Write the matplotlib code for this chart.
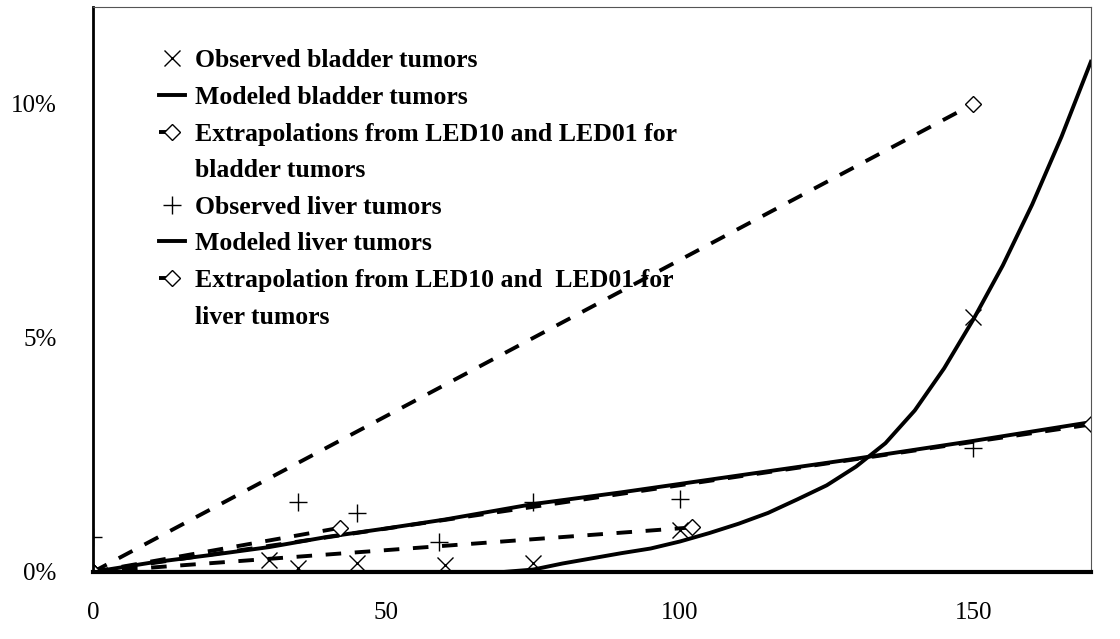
import matplotlib
matplotlib.use("Agg")
import matplotlib.pyplot as plt
from matplotlib.lines import Line2D
from matplotlib.ticker import FuncFormatter

plt.rcParams['font.family'] = ['Liberation Serif', 'DejaVu Serif']

# Observed bladder tumors (dose, % tumors)
obs_bladder_x = [30, 35, 45, 60, 75, 100, 150]
obs_bladder_y = [0.25, 0.08, 0.2, 0.15, 0.2, 0.9, 5.45]

# Modeled bladder tumors
mod_bladder_x = [0, 70, 75, 80, 85, 90, 95, 100, 105, 110, 115, 120, 125, 130,
                 135, 140, 145, 150, 155, 160, 165, 170]
mod_bladder_y = [0, 0, 0.05, 0.18, 0.29, 0.4, 0.5, 0.65, 0.83, 1.03, 1.26, 1.55,
                 1.85, 2.25, 2.75, 3.45, 4.35, 5.4, 6.55, 7.85, 9.3, 10.9]

# Extrapolations for bladder tumors (LED10 and LED01)
bladder_led10_x = [0, 150]
bladder_led10_y = [0, 10.0]
bladder_led01_x = [0, 102]
bladder_led01_y = [0, 0.95]

# Observed liver tumors
obs_liver_x = [0, 35, 45, 59, 75, 100, 150]
obs_liver_y = [0.75, 1.5, 1.26, 0.64, 1.5, 1.56, 2.65]

# Modeled liver tumors
mod_liver_x = [0, 10, 20, 30, 40, 50, 60, 75, 90, 100, 120, 130, 150, 170]
mod_liver_y = [0, 0.2, 0.36, 0.53, 0.75, 0.93, 1.12, 1.45, 1.7, 1.88, 2.24,
               2.42, 2.8, 3.2]

# Extrapolations for liver tumors (LED10 and LED01)
liver_led10_x = [0, 170]
liver_led10_y = [0, 3.15]
liver_led01_x = [0, 42]
liver_led01_y = [0, 0.94]

fig = plt.figure(figsize=(11.2, 6.39), dpi=100)
ax = fig.add_axes([0.083, 0.105, 0.891, 0.884])

dash = (0, (4, 3.5))
lw = 2.8
diamond = dict(marker='D', markersize=8, markerfacecolor='white', markeredgewidth=1)

h1, = ax.plot(obs_bladder_x, obs_bladder_y, linestyle='none', marker='x', color='black',
              markersize=12, markeredgewidth=1)
h2, = ax.plot(mod_bladder_x, mod_bladder_y, color='black', linewidth=lw)
h3, = ax.plot(bladder_led10_x, bladder_led10_y, color='black', linewidth=lw,
              linestyle=dash, **diamond)
ax.plot(bladder_led01_x, bladder_led01_y, color='black', linewidth=lw, linestyle=dash,
        **diamond)
h4, = ax.plot(obs_liver_x, obs_liver_y, linestyle='none', marker='+', color='black',
              markersize=13, markeredgewidth=1)
h5, = ax.plot(mod_liver_x, mod_liver_y, color='black', linewidth=lw)
h6, = ax.plot(liver_led10_x, liver_led10_y, color='black', linewidth=lw,
              linestyle=dash, **diamond)
ax.plot(liver_led01_x, liver_led01_y, color='black', linewidth=lw, linestyle=dash,
        **diamond)

ax.set_xlim(0, 170)
ax.set_ylim(0, 12.07)
ax.set_xticks([0, 50, 100, 150])
ax.set_yticks([0, 5, 10])
ax.yaxis.set_major_formatter(FuncFormatter(lambda v, p: f"{v:.0f}%"))
ax.tick_params(length=0, labelsize=18)
ax.tick_params(axis='y', pad=26)
ax.tick_params(axis='x', pad=22)

ax.spines['left'].set_linewidth(2)
ax.spines['bottom'].set_linewidth(3)
ax.spines['top'].set_linewidth(0.8)
ax.spines['top'].set_color('#555555')
ax.spines['right'].set_linewidth(0.8)
ax.spines['right'].set_color('#555555')

# the wrapped labels get a blank handle on their second line, as in Excel
blank = Line2D([], [], linestyle='none')
handles = [h1, h2, h3, blank, h4, h5, h6, blank]
labels = ['Observed bladder tumors',
          'Modeled bladder tumors',
          'Extrapolations from LED10 and LED01 for',
          'bladder tumors',
          'Observed liver tumors',
          'Modeled liver tumors',
          'Extrapolation from LED10 and  LED01 for',
          'liver tumors']
ax.legend(handles, labels, loc='upper left', bbox_to_anchor=(0.043, 0.966),
          frameon=False, prop={'weight': 'bold', 'size': 18.5}, handlelength=1.0,
          handletextpad=0.4, labelspacing=0.53)

fig.savefig("out.png", dpi=100)
plt.close()
